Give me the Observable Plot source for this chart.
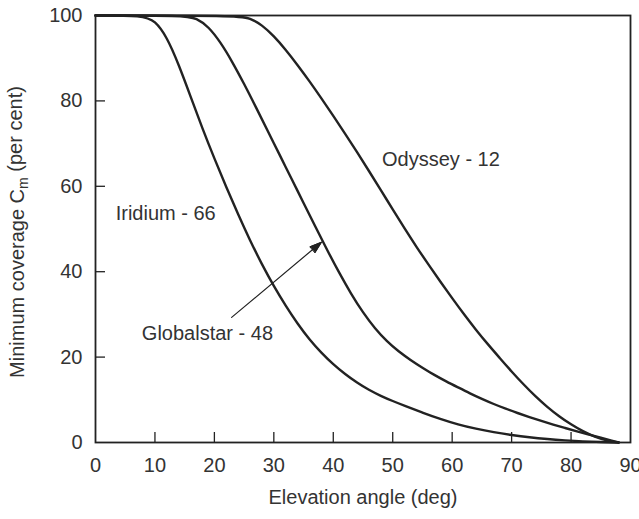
<!DOCTYPE html>
<html>
<head>
<meta charset="utf-8">
<script src="https://cdn.jsdelivr.net/npm/d3@7"></script>
<script src="https://cdn.jsdelivr.net/npm/@observablehq/plot@0.6"></script>
<style>
  html, body { margin: 0; padding: 0; background: #fff; }
  #chart svg { display: block; }
</style>
</head>
<body>
<div id="chart"></div>
<script>
// Series: [elevation angle (deg), minimum coverage (%)]
const iridium = [[0,100],[8,100],[10,98.8],[12,95],[14,88.5],[16,81],[18,73.5],[20,66.5],[22,59.8],[24,53.4],[26,47.3],[28,41.7],[30,36.6],[32,32],[34,27.8],[36,24.1],[38,21],[40,18.3],[42,16],[44,14],[46,12.3],[48,10.9],[50,9.7],[52,8.6],[55,7],[58,5.5],[61,4.2],[64,3.2],[67,2.4],[70,1.75],[73,1.2],[76,0.8],[79,0.5],[82,0.25],[85,0.1],[88,0]];
const globalstar = [[0,100],[15,100],[17,99.4],[19,97.4],[21,93.8],[23,89.2],[25,84],[27,78.5],[29,72.9],[31,67.3],[33,61.7],[35,56.1],[37,50.5],[39,45],[41,39.7],[43,34.8],[45,30.4],[47,26.7],[49,23.7],[51,21.3],[53,19.3],[55,17.5],[57,15.8],[59,14.3],[61,12.9],[63,11.5],[65,10.2],[67,9],[69,7.9],[71,6.9],[73,5.95],[75,5.05],[77,4.2],[79,3.4],[81,2.6],[83,1.85],[85,1.1],[87,0.4],[88,0]];
const odyssey = [[0,100],[24,100],[26,99.4],[28,97.8],[30,95.2],[32,92],[34,88.4],[36,84.6],[38,80.6],[40,76.5],[42,72.3],[44,68],[46,63.6],[48,59.1],[50,54.6],[52,50.1],[54,45.8],[56,41.7],[58,37.7],[60,33.8],[62,30],[64,26.4],[66,23],[68,19.8],[70,16.6],[72,13.6],[74,10.8],[76,8.3],[78,6.1],[80,4.2],[82,2.6],[84,1.3],[86,0.45],[88,0]];

const seriesNames = ["Iridium - 66", "Globalstar - 48", "Odyssey - 12"];
const xTicks = [0,10,20,30,40,50,60,70,80,90];
const yTicks = [0,20,40,60,80,100];
const xLabel = "Elevation angle (deg)";
const yLabel = "Minimum coverage C";
const yLabelSub = "m";
const yLabelTail = " (per cent)";

// label anchor positions in data units [x, y]
const labelPos = [[3.4, 53.6], [7.8, 25.5], [48.2, 66.3]];
// arrow from Globalstar label to its curve
const arrowFrom = [22.9, 29.3];
const arrowTo = [38.0, 46.9];

const rows = [];
[iridium, globalstar, odyssey].forEach((s, i) => s.forEach(([x, y]) => rows.push({series: seriesNames[i], x, y})));
const labels = seriesNames.map((name, i) => ({name, x: labelPos[i][0], y: labelPos[i][1]}));
const arrows = [{x1: arrowFrom[0], y1: arrowFrom[1], x2: arrowTo[0], y2: arrowTo[1]}];

const W = 639, H = 519, mL = 95, mR = 9, mT = 15, mB = 77;
const innerW = W - mL - mR, innerH = H - mT - mB;
const ink = "#222";
const txt = "#333";

const chart = Plot.plot({
  width: W, height: H,
  marginLeft: mL, marginRight: mR, marginTop: mT, marginBottom: mB,
  style: {fontFamily: "'Liberation Sans', Arial, Helvetica, sans-serif", fontSize: "20px", color: txt, background: "#fff", overflow: "visible"},
  x: {domain: [0, 90]},
  y: {domain: [0, 100]},
  marks: [
    Plot.axisX({ticks: xTicks, tickSize: 0, tickPadding: 15, label: null, fill: txt}),
    Plot.axisY({ticks: yTicks, tickSize: 0, tickPadding: 13, label: null, fill: txt}),
    Plot.tickX(xTicks.slice(1, -1), {x: d => d, stroke: ink, strokeWidth: 1.3, insetTop: innerH - 10}),
    Plot.tickY(yTicks.slice(1, -1), {y: d => d, stroke: ink, strokeWidth: 1.3, insetRight: innerW - 10}),
    Plot.line(rows, {x: "x", y: "y", z: "series", stroke: ink, strokeWidth: 2.4, curve: "basis"}),
    Plot.frame({stroke: ink, strokeWidth: 1.8}),
    Plot.arrow(arrows, {x1: "x1", y1: "y1", x2: "x2", y2: "y2", stroke: ink, strokeWidth: 1.2, headLength: 15, headAngle: 36, className: "ptr"}),
    Plot.text(labels, {x: "x", y: "y", text: "name", textAnchor: "start", fill: txt, fontSize: 20}),
    Plot.text([xLabel], {frameAnchor: "bottom", text: d => d, dy: 61, fill: txt, fontSize: 20}),
    Plot.text([yLabel], {frameAnchor: "left", textAnchor: "middle", text: d => d, dx: -78, dy: 3, rotate: -90, fill: txt, fontSize: 20})
  ]
});
document.getElementById("chart").appendChild(chart);

// add subscript to the y title
d3.select(chart).selectAll("text").each(function() {
  const t = d3.select(this);
  if (t.text() === yLabel) {
    t.text(null);
    t.append("tspan").text(yLabel);
    t.append("tspan").attr("dy", "0.3em").attr("font-size", 14).text(yLabelSub);
    t.append("tspan").attr("dy", "-0.3em").text(yLabelTail);
  }
});

// fill the arrowhead drawn by Plot.arrow
d3.select(chart).selectAll("g.ptr path").each(function() {
  const d = this.getAttribute("d") || "";
  const n = (d.match(/-?\d*\.?\d+(?:e-?\d+)?/g) || []).map(Number);
  if (n.length >= 6) {
    const h = n.slice(-6);
    d3.select(this.parentNode).append("path")
      .attr("d", `M${h[0]},${h[1]}L${h[2]},${h[3]}L${h[4]},${h[5]}Z`)
      .attr("fill", ink).attr("stroke", ink).attr("stroke-width", 1)
      .attr("transform", this.getAttribute("transform"));
  }
});
</script>
</body>
</html>
